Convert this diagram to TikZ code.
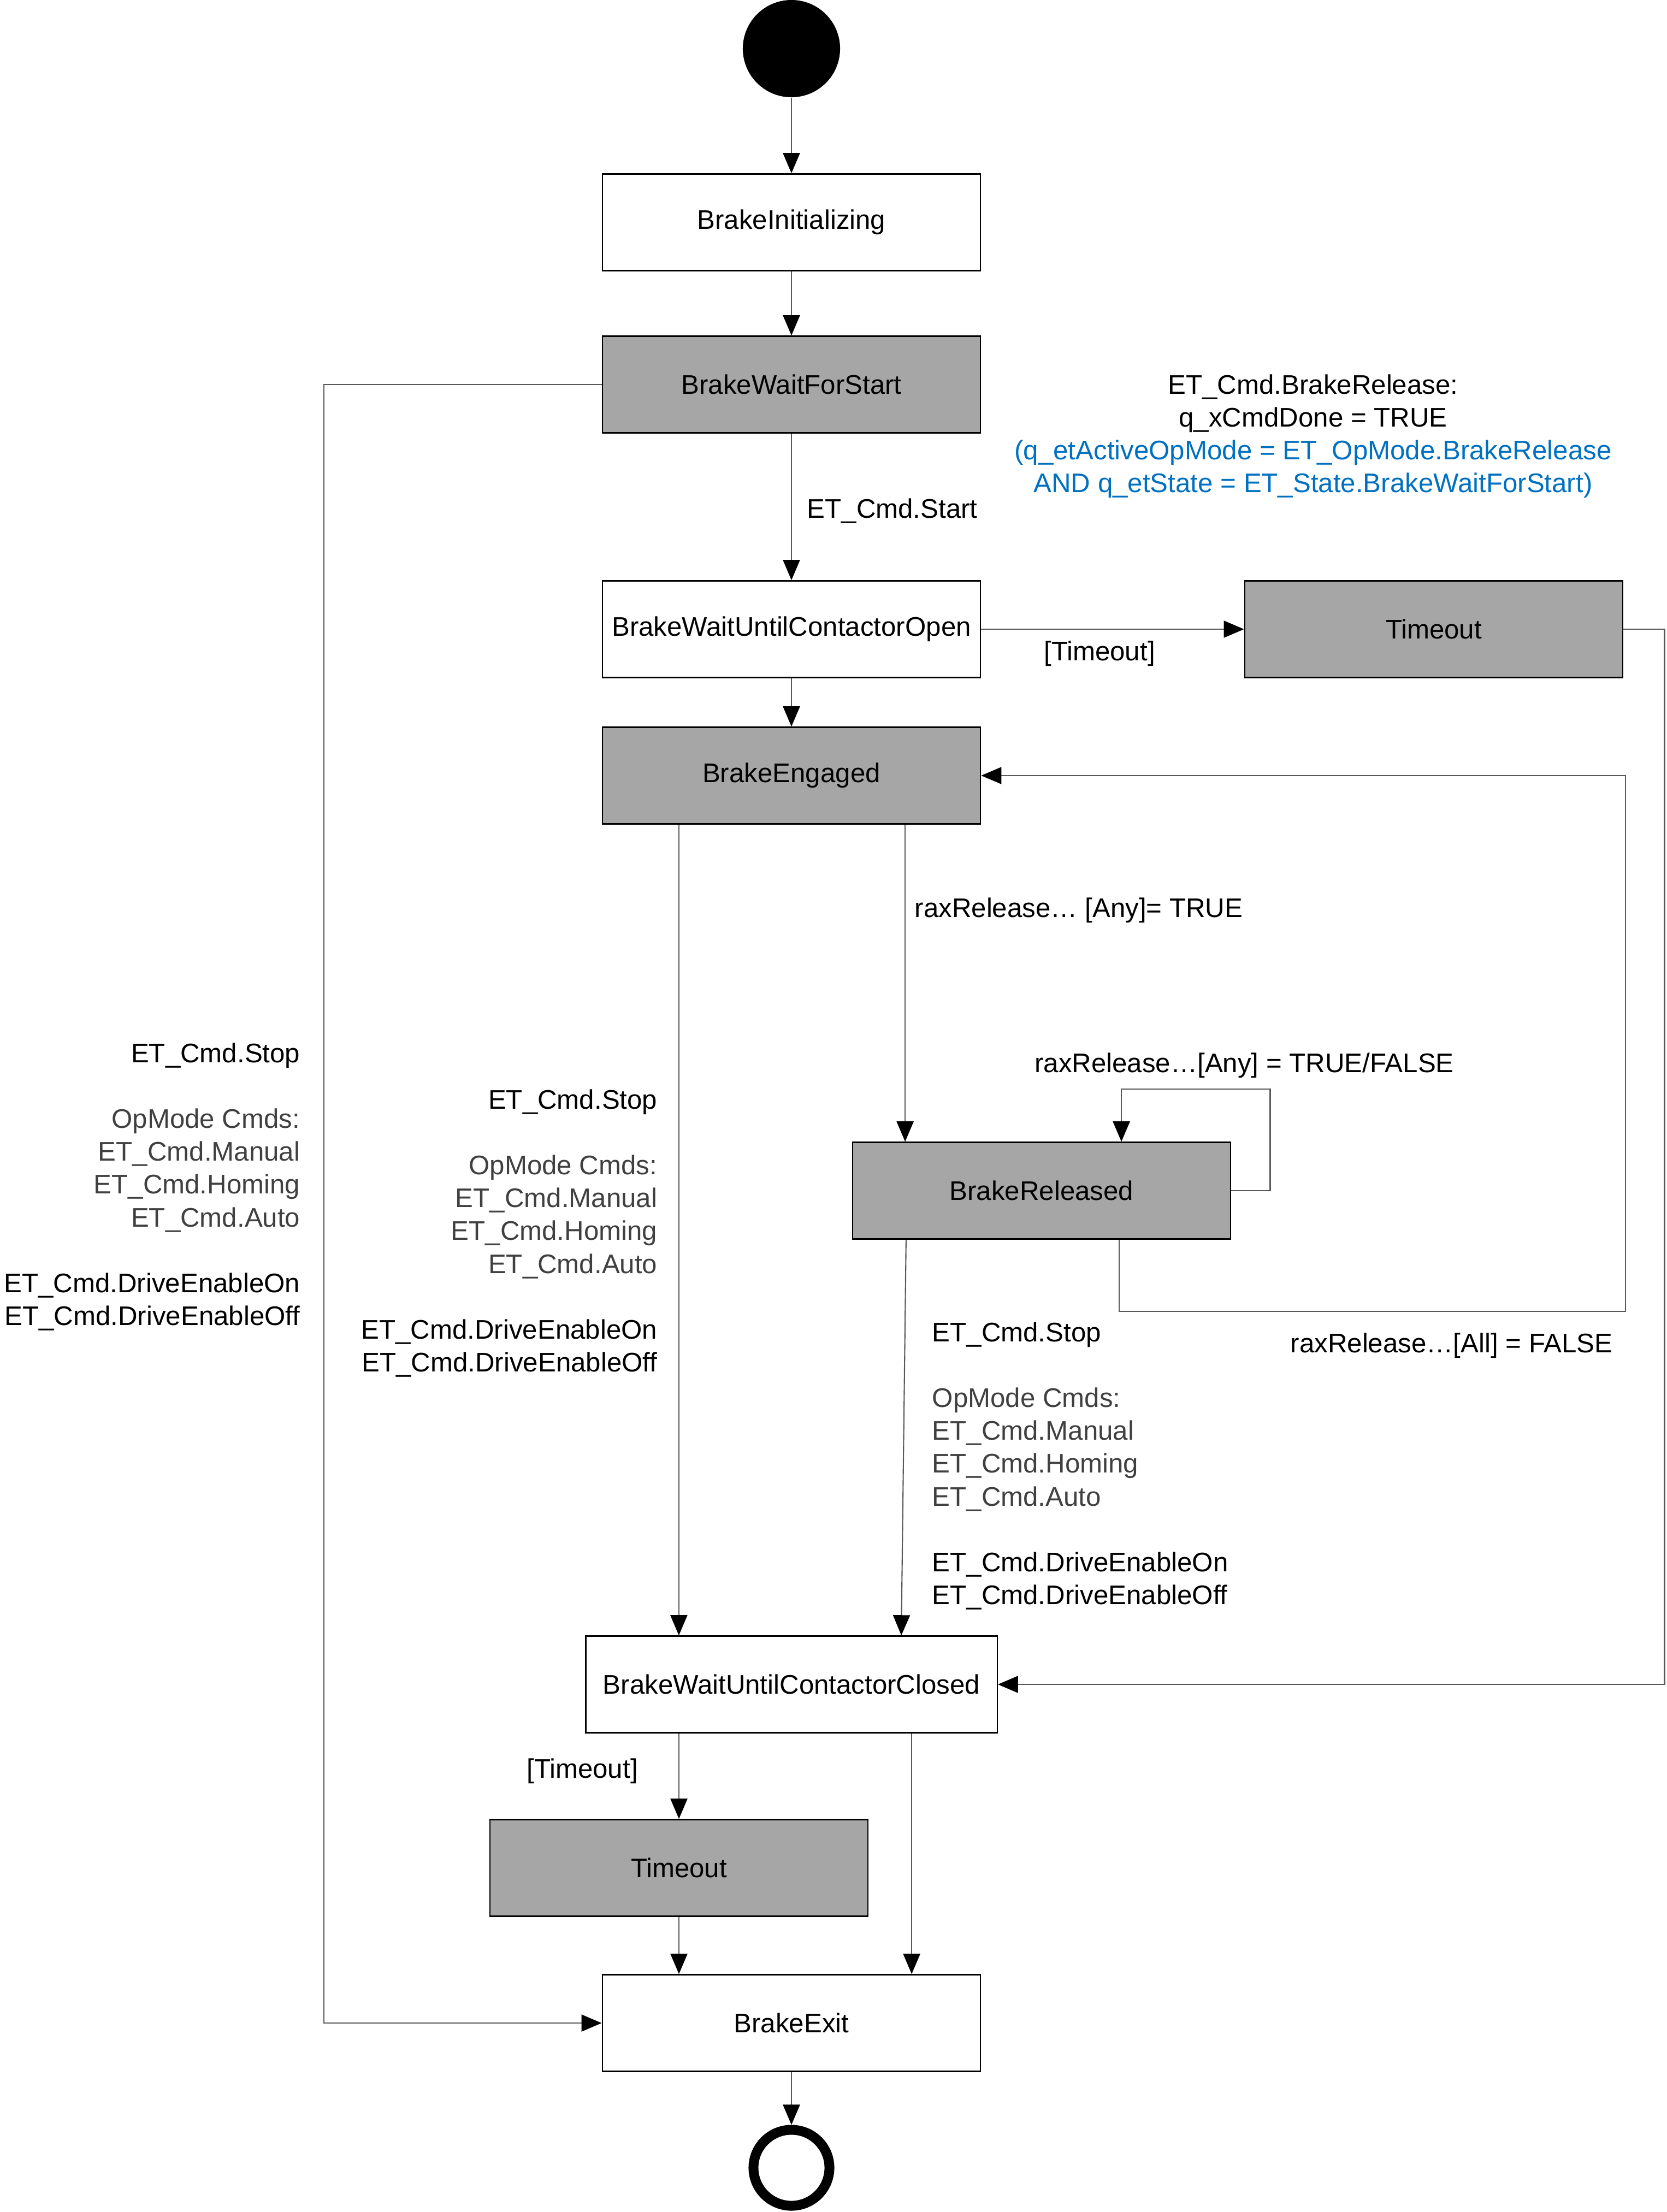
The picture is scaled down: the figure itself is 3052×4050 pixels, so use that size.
\documentclass[tikz,border=0pt]{standalone}
\usepackage{fontspec}
\setmainfont{Liberation Sans}
\usepackage{xcolor}
\usetikzlibrary{arrows.meta,calc,positioning}
\definecolor{stategray}{HTML}{A6A6A6}
\definecolor{condblue}{HTML}{0070C0}
\definecolor{cmdgray}{HTML}{404040}
\newcommand{\cmdlist}{ET\_Cmd.Stop\\[17.07pt]
  \textcolor{cmdgray}{OpMode Cmds:}\\
  \textcolor{cmdgray}{ET\_Cmd.Manual}\\
  \textcolor{cmdgray}{ET\_Cmd.Homing}\\
  \textcolor{cmdgray}{ET\_Cmd.Auto}\\[17.07pt]
  ET\_Cmd.DriveEnableOn\\
  ET\_Cmd.DriveEnableOff}

\begin{document}
\begin{tikzpicture}[x=0.01cm, y=-0.01cm,
	every node/.style={font=\fontsize{14}{17.07}\selectfont},
	state/.style={draw=black, line width=0.7pt, minimum width=6.92cm, minimum height=1.77cm, inner sep=2pt},
	active/.style={state, fill=stategray},
	guard/.style={inner sep=0pt},
	trans/.style={draw=black!65, line width=0.6pt, -{Triangle[length=0.37cm, width=0.31cm, color=black]}}]
			\useasboundingbox (0,0) rectangle (3052,4050);
			% states
			\node[circle, fill=black, inner sep=0pt, minimum size=1.78cm] (start) at (1449,89) {};
			\node[state] (init) at (1449,407) {BrakeInitializing};
			\node[active] (waitStart) at (1449,704) {BrakeWaitForStart};
			\node[state] (waitOpen) at (1449,1152) {BrakeWaitUntilContactorOpen};
			\node[active] (timeoutA) at (2625,1152) {Timeout};
			\node[active] (engaged) at (1449,1420) {BrakeEngaged};
			\node[active] (released) at (1907,2180) {BrakeReleased};
			\node[state, minimum width=7.53cm] (waitClosed) at (1449,3084) {BrakeWaitUntilContactorClosed};
			\node[active] (timeoutB) at (1243,3420) {Timeout};
			\node[state] (exit) at (1449,3704) {BrakeExit};
			\node[circle, draw=black, line width=0.18cm, inner sep=0pt, minimum size=1.39cm] (stop) at (1449,3969) {};
			% transitions
			\draw[trans] (start) -- (init);
			\draw[trans] (init) -- (waitStart);
			\draw[trans] (waitStart) -- (waitOpen);
			\draw[trans] (waitOpen) -- (engaged);
			\draw[trans] (waitOpen) -- (timeoutA);
			\draw[trans] (timeoutA.east) -- ++(75,0) |- (waitClosed.east);
			\draw[trans] (waitStart.west) -- ++(-509,0) |- (exit.west);
			\draw[trans] ([xshift=-2.06cm]engaged.south) -- ([xshift=-2.06cm]engaged.south |- waitClosed.north);
			\draw[trans] ([xshift=2.08cm]engaged.south) -- ([xshift=2.08cm]engaged.south |- released.north);
			\draw[trans] (released.east) -- ++(71,0) -- ++(0,-186) -| ([xshift=1.46cm]released.north);
			\draw[trans] ([xshift=1.42cm]released.south) -- ++(0,131) -- ++(927,0) |- (engaged.east);
			\draw[trans] ([xshift=-2.48cm]released.south) -- ([xshift=2.01cm]waitClosed.north);
			\draw[trans] (timeoutB.north |- waitClosed.south) -- (timeoutB.north);
			\draw[trans] ([xshift=2.2cm]waitClosed.south) -- ([xshift=2.2cm]waitClosed.south |- exit.north);
			\draw[trans] (timeoutB.south) -- (timeoutB.south |- exit.north);
			\draw[trans] (exit) -- (stop);
			% labels
			\node[guard, anchor=west] (lStart) at (1477,936) {ET\_Cmd.Start};
			\node[guard, align=center] (lRelease) at (2404,799) {ET\_Cmd.BrakeRelease:\\
				q\_xCmdDone = TRUE\\
				\textcolor{condblue}{(q\_etActiveOpMode = ET\_OpMode.BrakeRelease}\\
				\textcolor{condblue}{AND q\_etState = ET\_State.BrakeWaitForStart)}};
			\node[guard] (lTimeoutA) at (2013,1197) {[Timeout]};
			\node[guard, anchor=west] (lAny) at (1674,1667) {raxRelease… [Any]= TRUE};
			\node[guard] (lAnyBoth) at (2278,1951) {raxRelease…[Any] = TRUE/FALSE};
			\node[guard, anchor=west] (lAll) at (2362,2464) {raxRelease…[All] = FALSE};
			\node[guard, anchor=east, align=right] (lStopLeft) at (550,2173) {\cmdlist};
			\node[guard, anchor=east, align=right] (lStopMid) at (1204,2258) {\cmdlist};
			\node[guard, anchor=west, align=left] (lStopRight) at (1706,2684) {\cmdlist};
			\node[guard] (lTimeoutB) at (1066,3243) {[Timeout]};
	\end{tikzpicture}
\end{document}
